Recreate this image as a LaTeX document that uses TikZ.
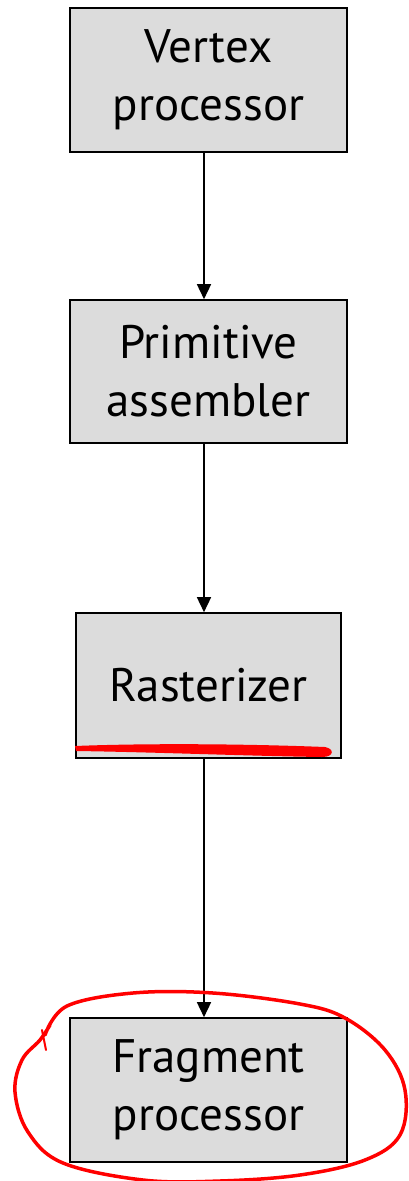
\documentclass[tikz,border=0pt]{standalone}
\usepackage{fontspec}
\setmainfont{PT Sans}
\usetikzlibrary{arrows.meta}
\definecolor{boxgray}{HTML}{DCDCDC}
\tikzset{
  stage/.style={draw=black, line width=1.6pt, fill=boxgray, inner sep=0pt,
    align=center, font=\fontsize{47}{58}\selectfont},
  flow/.style={draw=black, line width=1.5pt, -{Triangle[length=15pt,width=14pt]}},
  redmark/.style={draw=red, line width=3.5pt, line cap=round, line join=round}
}
\begin{document}
\begin{tikzpicture}[x=1pt,y=-1pt]
\useasboundingbox (0,0) rectangle (408,1181);
\node[stage, minimum width=277pt, minimum height=144pt] (v) at (208.5,80) {Vertex\\processor};
\node[stage, minimum width=277pt, minimum height=143pt] (p) at (208.5,371.5) {Primitive\\assembler};
\node[stage, minimum width=265pt, minimum height=145pt] (r) at (208.5,685.5) {Rasterizer};
\node[stage, minimum width=277pt, minimum height=144pt] (f) at (208.5,1090) {Fragment\\processor};
\draw[flow] (v.south -| 204,0) -- (p.north -| 204,0);
\draw[flow] (p.south -| 204,0) -- (r.north -| 204,0);
\draw[flow] (r.south -| 204,0) -- (f.north -| 204,0);
% red underline
\fill[red] (75,746) .. controls (150,743) and (250,744) .. (325,747)
  .. controls (335,749) and (334,757) .. (322,757)
  .. controls (250,756) and (150,752) .. (76,751) -- cycle;
% red hand-drawn ellipse
\draw[redmark] plot[smooth, tension=0.6] coordinates {
  (45,1035) (67,1006) (133,993) (213,993) (300,1004) (345,1018) (385,1050)
  (405,1090) (400,1135) (365,1160) (300,1175) (220,1181) (143,1180) (63,1163)
  (28,1132) (15,1092) (22,1060) (40,1040) (50,1025) };
\draw[redmark, line width=2pt] (42,1030) -- (46,1050);
\end{tikzpicture}
\end{document}
